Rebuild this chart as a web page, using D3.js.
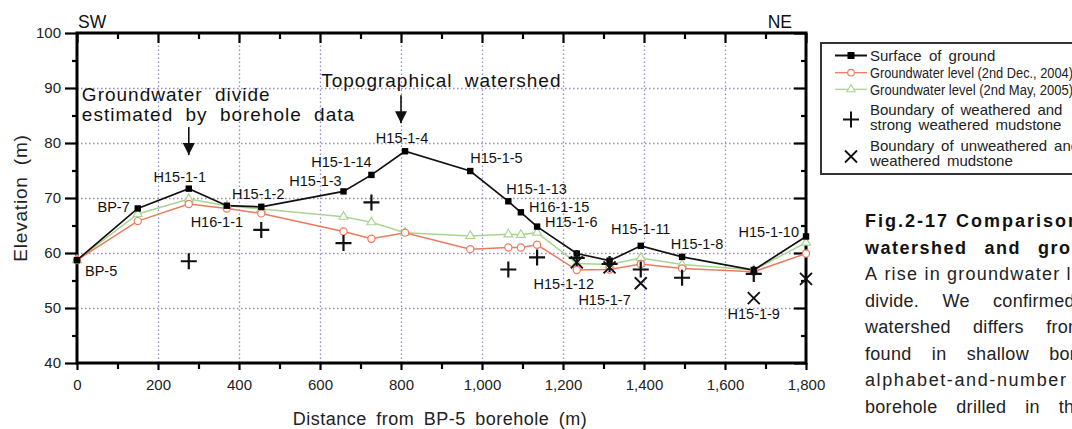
<!DOCTYPE html>
<html>
<head>
<meta charset="utf-8">
<script src="https://cdn.jsdelivr.net/npm/d3@7"></script>
<style>
  body { margin: 0; background: #fff; overflow: hidden; }
  svg { display: block; font-family: "Liberation Sans", Arial, sans-serif; }
</style>
</head>
<body>
<svg id="chart" width="1072" height="429"></svg>
<script>
// borehole positions along the section (m from BP-5)
const distance = [0, 150, 276, 370, 455, 658, 727, 810, 971, 1065, 1096, 1136, 1234, 1315, 1392, 1494, 1671, 1800];
const boreholeNames = ["BP-5", "BP-7", "H15-1-1", "H16-1-1", "H15-1-2", "H15-1-3", "H15-1-14", "H15-1-4", "H15-1-5",
  "H15-1-13", "H16-1-15", "H15-1-6", "H15-1-12", "H15-1-7", "H15-1-11", "H15-1-8", "H15-1-9", "H15-1-10"];

// elevations (m)
const surface = [58.7, 68.1, 71.7, 68.6, 68.4, 71.2, 74.2, 78.5, 74.9, 69.4, 67.4, 64.8, 59.9, 58.6, 61.3, 59.3, 56.9, 63.0];
const gwDec2004 = [58.7, 65.8, 68.9, 68.1, 67.2, 63.9, 62.6, 63.7, 60.7, 61.0, 61.0, 61.5, 56.9, 57.0, 58.0, 57.2, 56.6, 59.9];
const gwMay2005 = [58.7, 67.1, 69.8, 68.6, 68.0, 66.6, 65.6, 63.7, 63.1, 63.4, 63.3, 63.7, 58.1, 57.9, 59.1, 57.9, 56.9, 61.9];

// weathered / strong weathered boundary (+)
const weatheredX = [276, 455, 658, 727, 1065, 1136, 1234, 1315, 1392, 1494, 1671];
const weatheredY = [58.5, 64.2, 61.8, 69.2, 57.0, 59.2, 59.1, 58.0, 57.0, 55.5, 56.2];
// unweathered / weathered boundary (x)
const unweatheredX = [1234, 1315, 1392, 1671, 1800];
const unweatheredY = [58.3, 57.4, 54.5, 51.8, 55.3];

const xMajorTicks = [0, 200, 400, 600, 800, 1000, 1200, 1400, 1600, 1800];
const xMinorTicks = [100, 300, 500, 700, 900, 1100, 1300, 1500, 1700];
const yMajorTicks = [40, 50, 60, 70, 80, 90, 100];
const yMinorTicks = [45, 55, 65, 75, 85, 95];

const legendLabels = ["Surface of ground", "Groundwater level (2nd Dec., 2004)", "Groundwater level (2nd May, 2005)"];
const legendBoundary = ["Boundary of weathered and", "strong weathered mudstone", "Boundary of unweathered and", "weathered mudstone"];

const captionTitle = ["Fig.2-17 Comparison of topographical", "watershed and groundwater divide"];
const captionBody = ["A rise in groundwater level", "divide. We confirmed", "watershed differs from",
  "found in shallow boreholes", "alphabet-and-number", "borehole drilled in the"];

// label offsets from the surface point: [dx, dy, anchor]
const labelOffsets = {
  "BP-5": [8, 16, "start"], "BP-7": [-8, 4, "end"], "H15-1-1": [-9, -7, "middle"],
  "H16-1-1": [-10, 21, "middle"], "H15-1-2": [-3, -8, "middle"], "H15-1-3": [-28, -5, "middle"],
  "H15-1-14": [-30, -8, "middle"], "H15-1-4": [-3, -8, "middle"], "H15-1-5": [0, -8, "start"],
  "H15-1-13": [-2, -7, "start"], "H16-1-15": [8, 0, "start"], "H15-1-6": [8, 0, "start"],
  "H15-1-12": [-13, 35, "middle"], "H15-1-7": [-5, 44, "middle"], "H15-1-11": [0, -12, "middle"],
  "H15-1-8": [15, -8, "middle"], "H15-1-9": [0, 49, "middle"], "H15-1-10": [-7, 0, "end"]
};

const colors = { surface: "#111", dec: "#ec7a5f", may: "#a9d592", gridV: "#8c8ad2", gridH: "#a58bc6" };
const font = '"Liberation Sans", Arial, sans-serif';

const svg = d3.select("#chart");
svg.append("rect").attr("width", 1072).attr("height", 429).attr("fill", "#fff");

const x = d3.scaleLinear().domain([0, 1800]).range([77, 806]);
const y = d3.scaleLinear().domain([40, 100]).range([363, 33]);

// justified-looking text: measure every word and place it with an explicit x
function spacedText(sel, str, gap) {
  const x0 = +sel.attr("x") || 0;
  const anchor = sel.attr("text-anchor") || "start";
  sel.attr("text-anchor", null);
  const spans = sel.selectAll("tspan").data(str.split(" ")).join("tspan").text(d => d);
  const probe = sel.append("tspan").text("a a");
  const probe2 = sel.append("tspan").text("aa");
  const spaceW = probe.node().getComputedTextLength() - probe2.node().getComputedTextLength();
  probe.remove();
  probe2.remove();
  const widths = spans.nodes().map(n => n.getComputedTextLength());
  const total = d3.sum(widths) + (widths.length - 1) * (spaceW + gap);
  let cx = anchor === "middle" ? x0 - total / 2 : (anchor === "end" ? x0 - total : x0);
  spans.each(function (d, i) {
    d3.select(this).attr("x", cx);
    cx += widths[i] + spaceW + gap;
  });
  return sel;
}

//grid
svg.append("g")
  .attr("transform", `translate(0, ${y(40)})`)
  .call(d3.axisBottom(x).tickValues(xMajorTicks.slice(1, -1)).tickSize(-(y(40) - y(100))).tickFormat(""))
  .call(g => g.select(".domain").remove())
  .selectAll("line").attr("stroke", colors.gridV);
svg.append("g")
  .attr("transform", `translate(${x(0)}, 0)`)
  .call(d3.axisLeft(y).tickValues(yMajorTicks.slice(1, -1)).tickSize(-(x(1800) - x(0))).tickFormat(""))
  .call(g => g.select(".domain").remove())
  .selectAll("line").attr("stroke", colors.gridH);
svg.selectAll("g line")
  .attr("stroke-width", 1.3)
  .attr("stroke-dasharray", "1.6,2.4");

//axes
function axisStyle(g, size) {
  g.select(".domain").remove();
  g.selectAll("line").attr("stroke", "#000").attr("stroke-width", 2.2);
  g.selectAll("text").attr("fill", "#222").style("font", size + "px " + font);
}
svg.append("g").attr("transform", `translate(0, ${y(40)})`)
  .call(d3.axisBottom(x).tickValues(xMajorTicks).tickSize(7).tickPadding(9).tickFormat(d3.format(",")))
  .call(g => axisStyle(g, 15));
svg.append("g").attr("transform", `translate(0, ${y(40)})`)
  .call(d3.axisBottom(x).tickValues(xMinorTicks).tickSize(6).tickFormat(""))
  .call(g => axisStyle(g, 15));
svg.append("g").attr("transform", `translate(${x(0)}, 0)`)
  .call(d3.axisLeft(y).tickValues(yMajorTicks).tickSize(12).tickPadding(4))
  .call(g => axisStyle(g, 15));
svg.append("g").attr("transform", `translate(${x(0)}, 0)`)
  .call(d3.axisLeft(y).tickValues(yMinorTicks).tickSize(5).tickFormat(""))
  .call(g => axisStyle(g, 15));
svg.append("g").attr("transform", `translate(0, ${y(100)})`)
  .call(d3.axisTop(x).tickValues(xMajorTicks).tickSize(-10).tickFormat(""))
  .call(g => axisStyle(g, 15));
svg.append("g").attr("transform", `translate(0, ${y(100)})`)
  .call(d3.axisTop(x).tickValues(xMinorTicks).tickSize(-6).tickFormat(""))
  .call(g => axisStyle(g, 15));
svg.append("g").attr("transform", `translate(${x(1800)}, 0)`)
  .call(d3.axisRight(y).tickValues(yMajorTicks).tickSize(-12).tickFormat(""))
  .call(g => axisStyle(g, 15));
svg.append("g").attr("transform", `translate(${x(1800)}, 0)`)
  .call(d3.axisRight(y).tickValues(yMinorTicks).tickSize(-5).tickFormat(""))
  .call(g => axisStyle(g, 15));

svg.append("rect")
  .attr("x", x(0)).attr("y", y(100))
  .attr("width", x(1800) - x(0)).attr("height", y(40) - y(100))
  .attr("fill", "none").attr("stroke", "#000").attr("stroke-width", 3);

//series
const line = d3.line().x(d => x(d[0])).y(d => y(d[1]));
const series = [
  { vals: gwMay2005, color: colors.may, width: 1.5 },
  { vals: gwDec2004, color: colors.dec, width: 1.5 },
  { vals: surface, color: colors.surface, width: 1.7 }
];
series.forEach(s => {
  svg.append("path")
    .datum(distance.map((d, i) => [d, s.vals[i]]))
    .attr("fill", "none")
    .attr("stroke", s.color)
    .attr("stroke-width", s.width)
    .attr("d", line);
});

const tri = d3.symbol().type(d3.symbolTriangle).size(34);
svg.append("g").selectAll("path").data(distance).join("path")
  .attr("transform", (d, i) => `translate(${x(d)}, ${y(gwMay2005[i])})`)
  .attr("d", tri)
  .attr("fill", "#fff").attr("stroke", colors.may).attr("stroke-width", 1.2);
svg.append("g").selectAll("circle").data(distance).join("circle")
  .attr("cx", d => x(d))
  .attr("cy", (d, i) => y(gwDec2004[i]))
  .attr("r", 3.6)
  .attr("fill", "#fff").attr("stroke", colors.dec).attr("stroke-width", 1.2);
svg.append("g").selectAll("rect").data(distance).join("rect")
  .attr("x", d => x(d) - 3.2)
  .attr("y", (d, i) => y(surface[i]) - 3.2)
  .attr("width", 6.4).attr("height", 6.4)
  .attr("fill", "#000");

const plusPath = "M-8,0H8M0,-8V8";
const crossPath = "M-6,-6L6,6M-6,6L6,-6";
svg.append("g").selectAll("path").data(weatheredX).join("path")
  .attr("transform", (d, i) => `translate(${x(d)}, ${y(weatheredY[i])})`)
  .attr("d", plusPath)
  .attr("stroke", "#111").attr("stroke-width", 2.2).attr("fill", "none");
svg.append("g").selectAll("path").data(unweatheredX).join("path")
  .attr("transform", (d, i) => `translate(${x(d)}, ${y(unweatheredY[i])})`)
  .attr("d", crossPath)
  .attr("stroke", "#111").attr("stroke-width", 1.9).attr("fill", "none");

//borehole labels
svg.append("g").selectAll("text").data(boreholeNames).join("text")
  .attr("x", (d, i) => x(distance[i]) + labelOffsets[d][0])
  .attr("y", (d, i) => y(surface[i]) + labelOffsets[d][1])
  .attr("text-anchor", d => labelOffsets[d][2])
  .style("font-size", "14.5px")
  .attr("fill", "#111")
  .text(d => d);

//annotations
svg.append("defs").append("marker")
  .attr("id", "arrow").attr("viewBox", "0 0 10 10")
  .attr("refX", 10).attr("refY", 5)
  .attr("markerWidth", 12).attr("markerHeight", 12)
  .attr("markerUnits", "userSpaceOnUse")
  .attr("orient", "auto")
  .append("path").attr("d", "M0,0L10,5L0,10Z").attr("fill", "#111");

function annot(lines, tx, ty, ax, ay0, ay1) {
  lines.forEach((t, i) => {
    svg.append("text")
      .attr("x", x(tx)).attr("y", y(ty) + i * 20)
      .style("font-size", "19px")
      .style("letter-spacing", "1px")
      .attr("fill", "#111")
      .call(spacedText, t, 6);
  });
  svg.append("line")
    .attr("x1", x(ax)).attr("x2", x(ax))
    .attr("y1", y(ay0)).attr("y2", y(ay1))
    .attr("stroke", "#111").attr("stroke-width", 1.6)
    .attr("marker-end", "url(#arrow)");
}
annot(["Groundwater divide", "estimated by borehole data"], 12, 87.7, 276, 82.9, 77.8);
annot(["Topographical watershed"], 603, 90.2, 800, 88.7, 83.6);

//direction labels
svg.append("text").attr("x", 78).attr("y", 28).style("font-size", "17.5px").attr("fill", "#111").text("SW");
svg.append("text").attr("x", 792).attr("y", 28).attr("text-anchor", "end").style("font-size", "17.5px").attr("fill", "#111").text("NE");

//axis titles
svg.append("text")
  .attr("transform", `translate(27, ${(y(40) + y(100)) / 2}) rotate(-90)`)
  .attr("text-anchor", "middle")
  .style("font-size", "19px").style("letter-spacing", "0.8px")
  .attr("fill", "#222")
  .call(spacedText, "Elevation (m)", 5);
svg.append("text")
  .attr("x", 440).attr("y", 425)
  .attr("text-anchor", "middle")
  .style("font-size", "18px").style("letter-spacing", "0.5px")
  .attr("fill", "#222")
  .call(spacedText, "Distance from BP-5 borehole (m)", 4);

//legend
const legend = svg.append("g");
legend.append("rect")
  .attr("x", 821).attr("y", 43).attr("width", 300).attr("height", 131)
  .attr("fill", "#fff").attr("stroke", "#333").attr("stroke-width", 2);

const legendRows = [
  { y: 55.5, color: colors.surface, sym: "square" },
  { y: 72.7, color: colors.dec, sym: "circle" },
  { y: 89.3, color: colors.may, sym: "triangle" }
];
legendRows.forEach((r, i) => {
  legend.append("line").attr("x1", 835).attr("x2", 867).attr("y1", r.y).attr("y2", r.y)
    .attr("stroke", r.color).attr("stroke-width", i === 0 ? 2 : 1.3);
  if (r.sym === "square") {
    legend.append("rect").attr("x", 847.5).attr("y", r.y - 3.5).attr("width", 7).attr("height", 7).attr("fill", "#000");
  } else if (r.sym === "circle") {
    legend.append("circle").attr("cx", 851).attr("cy", r.y).attr("r", 3.3)
      .attr("fill", "#fff").attr("stroke", r.color).attr("stroke-width", 1.1);
  } else {
    legend.append("path").attr("transform", `translate(851, ${r.y})`).attr("d", d3.symbol().type(d3.symbolTriangle).size(30))
      .attr("fill", "#fff").attr("stroke", r.color).attr("stroke-width", 1.1);
  }
  const t = legend.append("text").attr("x", 870).attr("y", r.y + 5.5).attr("fill", "#222");
  if (i === 0) {
    t.style("font-size", "15px").call(spacedText, legendLabels[i], 3);
  } else {
    t.style("font-size", "14px").attr("textLength", 203).attr("lengthAdjust", "spacingAndGlyphs").text(legendLabels[i]);
  }
});
legend.append("path").attr("transform", "translate(851, 119.5)").attr("d", plusPath)
  .attr("stroke", "#111").attr("stroke-width", 2).attr("fill", "none");
legend.append("path").attr("transform", "translate(851, 156.5)").attr("d", crossPath)
  .attr("stroke", "#111").attr("stroke-width", 1.8).attr("fill", "none");
const boundaryY = [115, 130, 150.5, 165.5];
legendBoundary.forEach((t, i) => {
  legend.append("text").attr("x", 870).attr("y", boundaryY[i])
    .style("font-size", "15px").attr("fill", "#222").call(spacedText, t, 2.7);
});

//caption
const titleSpacing = [["2px", 0], ["1.5px", 10.5]];
captionTitle.forEach((t, i) => {
  svg.append("text").attr("x", 865).attr("y", 227 + i * 26.5)
    .style("font-size", "18px").style("font-weight", "bold")
    .style("letter-spacing", titleSpacing[i][0])
    .attr("fill", "#111").call(spacedText, t, titleSpacing[i][1]);
});
const bodySpacing = [["1.2px", 0], ["0.3px", 18], ["0.3px", 17], ["0.3px", 15], ["1.6px", 0], ["0.3px", 13.5]];
captionBody.forEach((t, i) => {
  svg.append("text").attr("x", 865).attr("y", 280 + i * 26.6)
    .style("font-size", "18px")
    .style("letter-spacing", bodySpacing[i][0])
    .attr("fill", "#222").call(spacedText, t, bodySpacing[i][1]);
});
</script>
</body>
</html>
